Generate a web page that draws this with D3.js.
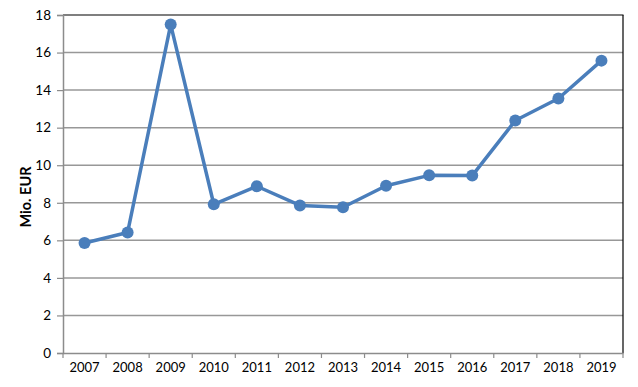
<!DOCTYPE html>
<html>
<head>
<meta charset="utf-8">
<script src="https://cdn.jsdelivr.net/npm/d3@7"></script>
<style>
body{margin:0;background:#fff}
text{font-family:Lato,"Open Sans",sans-serif;fill:#000}
</style>
</head>
<body>
<svg></svg>
<script>
var years=["2007","2008","2009","2010","2011","2012","2013","2014","2015","2016","2017","2018","2019"]
var values=[5.86,6.42,17.49,7.92,8.88,7.86,7.76,8.91,9.46,9.45,12.38,13.55,15.57]
var yTicks=[0,2,4,6,8,10,12,14,16,18]

var screen={width:638,height:387}
var plot={left:63,right:623,top:15,bottom:353}

var svg=d3.select("svg").attr("width",screen.width).attr("height",screen.height)

var xScale=d3.scaleBand().domain(years).range([plot.left,plot.right])
var yScale=d3.scaleLinear().domain([0,18]).range([plot.bottom,plot.top])

// gridlines
svg.selectAll(".grid")
    .data(yTicks.filter(function(t){return t>0 && t<18}))
    .enter()
    .append("line")
    .attr("x1",plot.left).attr("x2",plot.right)
    .attr("y1",function(d){return yScale(d)})
    .attr("y2",function(d){return yScale(d)})
    .attr("stroke","#989898").attr("stroke-width",1.5)

// top and right border
svg.append("line").attr("x1",plot.left).attr("x2",plot.right+0.5)
    .attr("y1",yScale(18)).attr("y2",yScale(18)).attr("stroke","#000").attr("stroke-width",1.2)
svg.append("line").attr("x1",plot.right).attr("x2",plot.right)
    .attr("y1",yScale(18)).attr("y2",plot.bottom).attr("stroke","#000").attr("stroke-width",1.2)

// y axis
var yAxis=d3.axisLeft(yScale).tickValues(yTicks).tickSize(6).tickPadding(6)
var gy=svg.append("g").attr("transform","translate("+plot.left+",0)").call(yAxis)
gy.select(".domain").attr("stroke","#8c8c8c").attr("stroke-width",1.5)
gy.selectAll(".tick line").attr("stroke","#8c8c8c").attr("stroke-width",1.2)
gy.selectAll("text").style("font-size","13.5px").attr("fill","#000")

// x axis
var xAxis=d3.axisBottom(xScale).tickSize(0).tickPadding(10)
var gx=svg.append("g").attr("transform","translate(0,"+plot.bottom+")").call(xAxis)
gx.select(".domain").attr("stroke","#8c8c8c").attr("stroke-width",1.5)
gx.selectAll("text").style("font-size","13px").attr("fill","#000")
gx.selectAll(".bound")
    .data(d3.range(years.length+1))
    .enter()
    .append("line")
    .attr("x1",function(i){return plot.left+i*xScale.step()})
    .attr("x2",function(i){return plot.left+i*xScale.step()})
    .attr("y1",0).attr("y2",5)
    .attr("stroke","#8c8c8c").attr("stroke-width",1.2)

// y label
svg.append("text")
    .attr("transform","translate(31,197) rotate(-90)")
    .attr("text-anchor","middle")
    .style("font-size","14.5px").style("font-weight","bold")
    .text("Mio. EUR")

// line
var pts=years.map(function(y,i){return {x:xScale(y)+xScale.bandwidth()/2,y:yScale(values[i])}})
var line=d3.line().x(function(d){return d.x}).y(function(d){return d.y})
svg.append("path").datum(pts)
    .attr("d",line).attr("fill","none")
    .attr("stroke","#4a7ebb").attr("stroke-width",3.5).attr("stroke-linejoin","round")

svg.selectAll(".pt")
    .data(pts)
    .enter()
    .append("circle")
    .attr("cx",function(d){return d.x})
    .attr("cy",function(d){return d.y})
    .attr("r",6)
    .attr("fill","#4a7ebb")
</script>
</body>
</html>
